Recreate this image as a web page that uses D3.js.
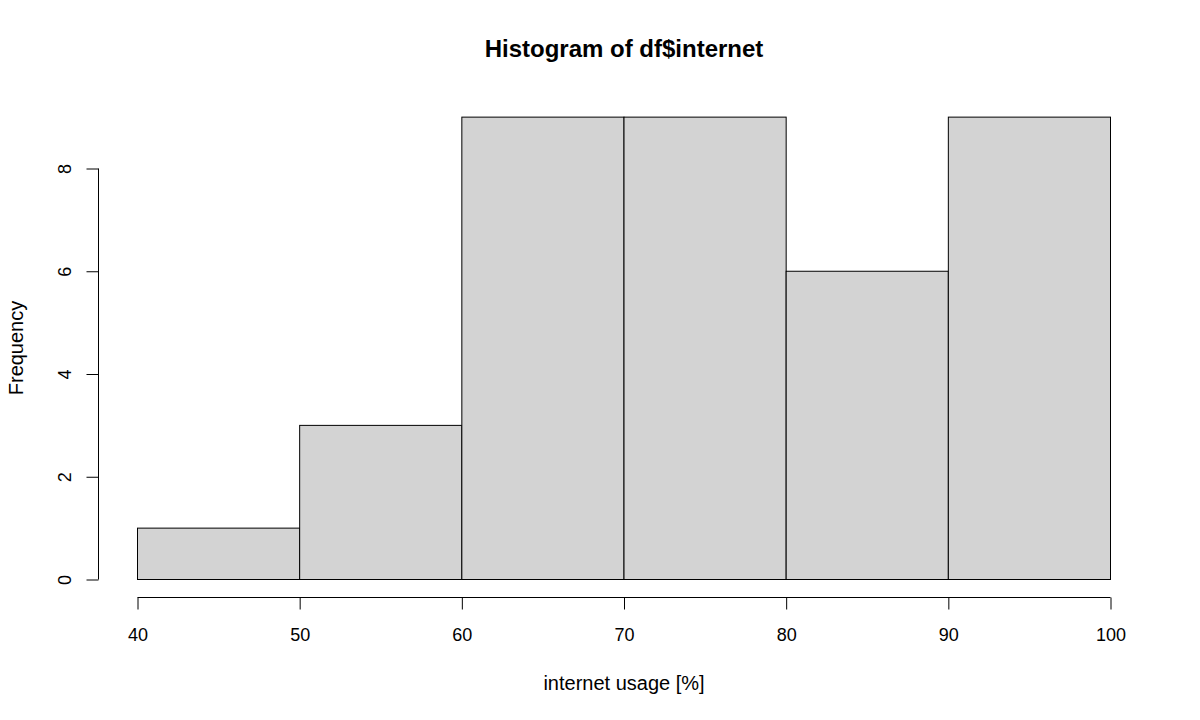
<!DOCTYPE html>
<html>
<head>
<meta charset="utf-8">
<script src="https://cdn.jsdelivr.net/npm/d3@7"></script>
<style>
  body { margin: 0; background: #fff; }
  svg { display: block; }
  text { font-family: "Liberation Sans", Arial, sans-serif; fill: #000; }
</style>
</head>
<body>
<svg id="chart" width="1200" height="720"></svg>
<script>
const binStarts = [40, 50, 60, 70, 80, 90];
const binEnds   = [50, 60, 70, 80, 90, 100];
const counts    = [1, 3, 9, 9, 6, 9];
const xTicks    = [40, 50, 60, 70, 80, 90, 100];
const yTicks    = [0, 2, 4, 6, 8];
const titleText = "Histogram of df$internet";
const xLabel    = "internet usage [%]";
const yLabel    = "Frequency";

const svg = d3.select("#chart");
const x = d3.scaleLinear().domain([40, 100]).range([137, 1110]);
const y = d3.scaleLinear().domain([0, 8]).range([579, 168]);

// bars
svg.append("g").selectAll("rect")
  .data(binStarts.map((s, i) => ({ s, e: binEnds[i], c: counts[i] })))
  .join("rect")
  .attr("x", d => x(d.s) + 0.5)
  .attr("y", d => y(d.c) + 0.5)
  .attr("width", d => x(d.e) - x(d.s))
  .attr("height", d => y(0) - y(d.c))
  .attr("fill", "#D3D3D3")
  .attr("stroke", "#000")
  .attr("stroke-width", 1);

// x axis
const xAxis = d3.axisBottom(x).tickValues(xTicks).tickSize(12).tickPadding(8).tickFormat(d3.format("d"));
const gx = svg.append("g").attr("transform", "translate(0.5,597.5)").call(xAxis);
gx.select(".domain").attr("d", `M${x(40)},0H${x(100)}`);
gx.selectAll("text").style("font-size", "18px").attr("dy", null).attr("y", 43);

// y axis
const yAxis = d3.axisLeft(y).tickValues(yTicks).tickSize(12).tickFormat(d3.format("d"));
const gy = svg.append("g").attr("transform", "translate(98.5,0.5)").call(yAxis);
gy.select(".domain").attr("d", `M0,${y(0)}V${y(8)}`);
gy.selectAll(".tick text")
  .style("font-size", "18px")
  .attr("x", null).attr("dy", null)
  .attr("text-anchor", "middle")
  .attr("transform", "translate(-28,0) rotate(-90)");
gy.selectAll("path, line").attr("stroke", "#000");
gx.selectAll("path, line").attr("stroke", "#000");
svg.selectAll(".tick text").attr("font-family", null)
  .style("font-family", '"Liberation Sans", Arial, sans-serif');

// title
svg.append("text")
  .attr("x", 624).attr("y", 57)
  .attr("text-anchor", "middle")
  .style("font-size", "24px").style("font-weight", "bold")
  .text(titleText);

// x label
svg.append("text")
  .attr("x", 624).attr("y", 690)
  .attr("text-anchor", "middle")
  .style("font-size", "20px")
  .text(xLabel);

// y label
svg.append("text")
  .attr("transform", "translate(23,348) rotate(-90)")
  .attr("text-anchor", "middle")
  .style("font-size", "20px")
  .text(yLabel);
</script>
</body>
</html>
